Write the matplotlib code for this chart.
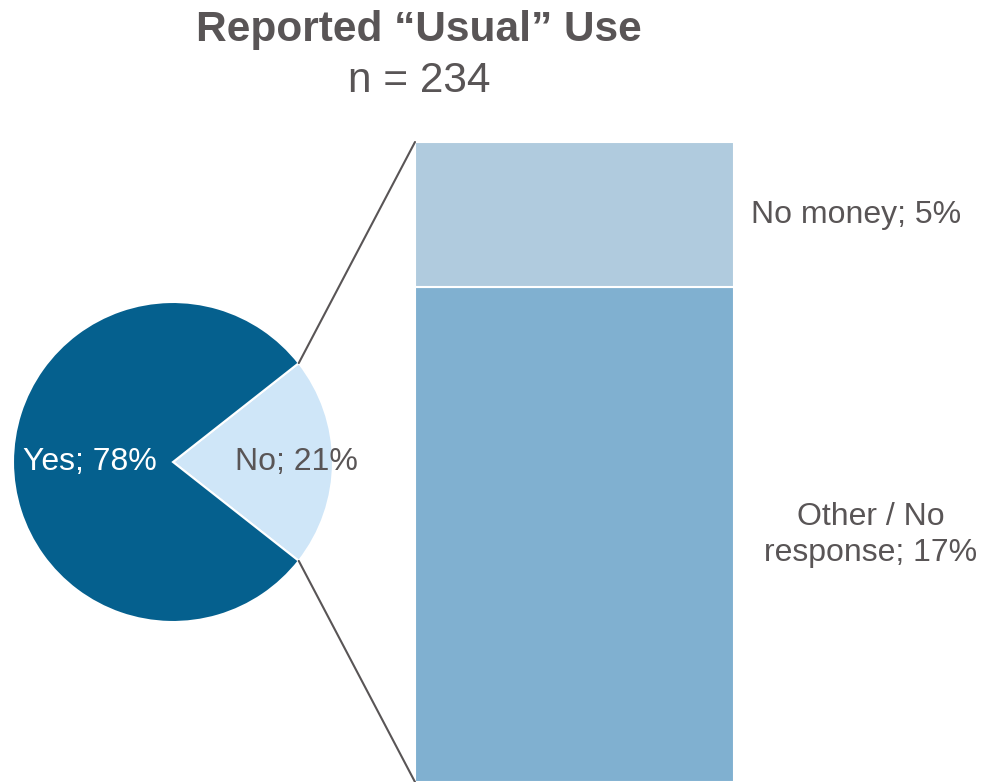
import matplotlib.pyplot as plt
from matplotlib.patches import ConnectionPatch
import numpy as np

plt.rcParams['font.family'] = ['Liberation Sans', 'DejaVu Sans']

# pie: reported "usual" use
pie_labels = ['No', 'Yes']
pie_values = [21, 78]
pie_colors = ['#cfe6f8', '#05608e']
pie_text_colors = ['#595556', 'white']

# bar: breakdown of "No"
bar_labels = ['Other / No\nresponse', 'No money']
bar_values = [17, 5]
bar_colors = ['#80b0d0', '#b0cbde']

txt = '#595556'
W, H = 983, 782
fig = plt.figure(figsize=(W / 100, H / 100), dpi=100)

# pie axes, centre (173, 462) px, radius 160 px
cx, cy, r = 173, 462, 160
ax1 = fig.add_axes([(cx - r) / W, (H - cy - r) / H, 2 * r / W, 2 * r / H])
total = sum(pie_values)
start = -pie_values[0] / total * 180
wedges, _ = ax1.pie(pie_values, colors=pie_colors, startangle=start,
                    radius=1, wedgeprops=dict(edgecolor='white', linewidth=1.5))
ax1.set_xlim(-1, 1)
ax1.set_ylim(-1, 1)
ax1.set_aspect('equal')
ax1.axis('off')

dists = [0.77, 0.52]
for w, lab, v, d, c in zip(wedges, pie_labels, pie_values, dists, pie_text_colors):
    ang = np.deg2rad((w.theta1 + w.theta2) / 2)
    ax1.text(d * np.cos(ang), d * np.sin(ang), f'{lab}; {v}%', color=c,
             fontsize=23, ha='center', va='center')

# stacked bar axes, x 415-734 px, top at 142 px
ax2 = fig.add_axes([415 / W, 0, 319 / W, (H - 142) / H])
bottom = 0
label_x = [0.928, 0.882]
for lab, v, c, lx in zip(bar_labels, bar_values, bar_colors, label_x):
    ax2.bar(0, v, width=1, bottom=bottom, color=c, edgecolor='white', linewidth=1.5)
    ax2.text(lx, bottom + v / 2, f'{lab}; {v}%', color=txt, fontsize=23,
             ha='center', va='center', linespacing=1.25, clip_on=False)
    bottom += v
ax2.set_xlim(-0.5, 0.5)
ax2.set_ylim(0, sum(bar_values))
ax2.axis('off')

# connector lines from the "No" wedge to the bar corners
w = wedges[0]
for theta, y in [(w.theta2, sum(bar_values)), (w.theta1, 0)]:
    t = np.deg2rad(theta)
    con = ConnectionPatch(xyA=(np.cos(t), np.sin(t)), coordsA=ax1.transData,
                          xyB=(-0.5, y), coordsB=ax2.transData,
                          color='#595556', linewidth=1.5)
    fig.add_artist(con)

fig.text(419 / W, 1 - 30 / H, 'Reported \u201cUsual\u201d Use', color=txt,
         fontsize=30.5, fontweight='bold', ha='center', va='center')
fig.text(419 / W, 1 - 81 / H, 'n = 234', color=txt, fontsize=30.5,
         ha='center', va='center')

fig.savefig('out.png', dpi=100)
